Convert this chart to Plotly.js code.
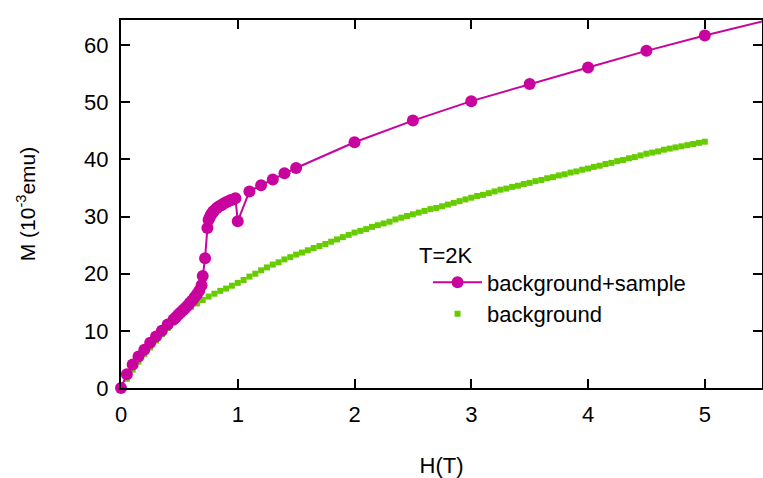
<!DOCTYPE html>
<html>
<head>
<meta charset="utf-8">
<script src="https://cdn.plot.ly/plotly-3.0.1.min.js"></script>
<style>html,body{margin:0;padding:0;background:#fff;}#chart{width:763px;height:478px;}</style>
</head>
<body>
<div id="chart"></div>
<script>
// background+sample
const sampleH = [0, 0.05, 0.1, 0.15, 0.2, 0.25, 0.3, 0.35, 0.4, 0.45, 0.47, 0.49, 0.51, 0.53, 0.55, 0.57, 0.59, 0.61, 0.63, 0.65, 0.67, 0.69, 0.70, 0.72, 0.74, 0.75, 0.76, 0.77, 0.78, 0.79, 0.80, 0.82, 0.84, 0.86, 0.88, 0.90, 0.92, 0.94, 0.96, 0.98, 1.00, 1.1, 1.2, 1.3, 1.4, 1.5, 2.0, 2.5, 3.0, 3.5, 4.0, 4.5, 5.0, 5.5];
const sampleM = [0, 2.4, 4.1, 5.5, 6.7, 7.9, 9.0, 10.0, 11.1, 12.0, 12.4, 12.8, 13.2, 13.6, 14.0, 14.4, 14.9, 15.3, 15.9, 16.4, 17.0, 18.0, 19.6, 22.7, 28.0, 29.4, 29.9, 30.3, 30.6, 30.9, 31.1, 31.5, 31.8, 32.0, 32.3, 32.5, 32.7, 32.9, 33.0, 33.2, 29.2, 34.4, 35.5, 36.5, 37.6, 38.5, 43.0, 46.8, 50.2, 53.2, 56.1, 59.0, 61.7, 64.2];

// background
const bgH = [0.00,0.05,0.10,0.15,0.20,0.25,0.30,0.35,0.40,0.45,0.50,0.55,0.60,0.65,0.70,0.75,0.80,0.85,0.90,0.95,
  1.00,1.05,1.10,1.15,1.20,1.25,1.30,1.35,1.40,1.45,1.50,1.55,1.60,1.65,1.70,1.75,1.80,1.85,1.90,1.95,
  2.00,2.05,2.10,2.15,2.20,2.25,2.30,2.35,2.40,2.45,2.50,2.55,2.60,2.65,2.70,2.75,2.80,2.85,2.90,2.95,
  3.00,3.05,3.10,3.15,3.20,3.25,3.30,3.35,3.40,3.45,3.50,3.55,3.60,3.65,3.70,3.75,3.80,3.85,3.90,3.95,
  4.00,4.05,4.10,4.15,4.20,4.25,4.30,4.35,4.40,4.45,4.50,4.55,4.60,4.65,4.70,4.75,4.80,4.85,4.90,4.95,5.00];
const bgM = [0.0,1.6,3.2,4.6,5.9,7.1,8.3,9.4,10.5,11.5,12.6,13.4,14.2,14.8,15.4,16.0,16.5,17.0,17.4,17.9,
  18.4,18.9,19.5,20.0,20.6,21.1,21.6,22.0,22.5,22.9,23.35,23.7,24.1,24.5,24.85,25.2,25.6,26.0,26.4,26.8,
  27.2,27.5,27.8,28.2,28.5,28.8,29.1,29.5,29.8,30.1,30.4,30.7,31.0,31.3,31.5,31.8,32.1,32.4,32.7,33.0,
  33.3,33.6,33.8,34.1,34.4,34.7,34.9,35.2,35.4,35.7,35.9,36.2,36.4,36.7,36.9,37.2,37.4,37.7,37.9,38.2,
  38.4,38.7,38.9,39.2,39.4,39.7,39.9,40.2,40.4,40.7,41.0,41.2,41.4,41.7,41.9,42.1,42.3,42.5,42.7,42.9,43.1];

const xTicks = [0, 1, 2, 3, 4, 5];
const yTicks = [0, 10, 20, 30, 40, 50, 60];

const magenta = '#c8039e';
const green = '#66cc00';
const FONT = 'Liberation Sans, Arial, sans-serif';

const traces = [
  {x: bgH, y: bgM, type: 'scatter', mode: 'markers', name: 'background',
   marker: {symbol: 'square', size: 6, color: green}, legendrank: 2},
  {x: sampleH, y: sampleM, type: 'scatter', mode: 'lines+markers', name: 'background+sample',
   line: {color: magenta, width: 2}, marker: {symbol: 'circle', size: 12, color: magenta},
   legendrank: 1, cliponaxis: false}
];

const axisCommon = {
  showline: true, linecolor: '#000', linewidth: 2, mirror: 'ticks',
  ticks: 'inside', ticklen: 9, tickwidth: 2, tickcolor: '#000',
  showgrid: false, zeroline: false,
  tickfont: {family: FONT, size: 22, color: '#000'}
};

const layout = {
  width: 763, height: 478,
  margin: {l: 121, r: 1, t: 20, b: 90},
  paper_bgcolor: '#fff', plot_bgcolor: '#fff',
  showlegend: true,
  xaxis: Object.assign({}, axisCommon, {
    range: [0, 5.49], tickvals: xTicks, ticktext: xTicks.map(String),
    ticklabelstandoff: 6,
    title: {text: 'H(T)', font: {family: FONT, size: 22, color: '#000'}, standoff: 34}
  }),
  yaxis: Object.assign({}, axisCommon, {
    range: [0, 64.4], tickvals: yTicks, ticktext: yTicks.map(String),
    ticklabelstandoff: 6,
    title: {text: 'M (10<sup>-3</sup>emu)', font: {family: FONT, size: 21, color: '#000'}, standoff: 43}
  }),
  legend: {
    x: 0.479, y: 0.344, xanchor: 'left', yanchor: 'top',
    bgcolor: 'rgba(0,0,0,0)', borderwidth: 0,
    itemwidth: 49, tracegroupgap: 0,
    font: {family: FONT, size: 22, color: '#000'}
  },
  annotations: [{
    text: 'T=2K', xref: 'paper', yref: 'paper',
    x: (417 - 121) / 642, y: (388 - 255) / 368, xanchor: 'left', yanchor: 'middle',
    showarrow: false, font: {family: FONT, size: 22, color: '#000'}
  }]
};

Plotly.newPlot('chart', traces, layout, {displayModeBar: false, staticPlot: true});
</script>
</body>
</html>
